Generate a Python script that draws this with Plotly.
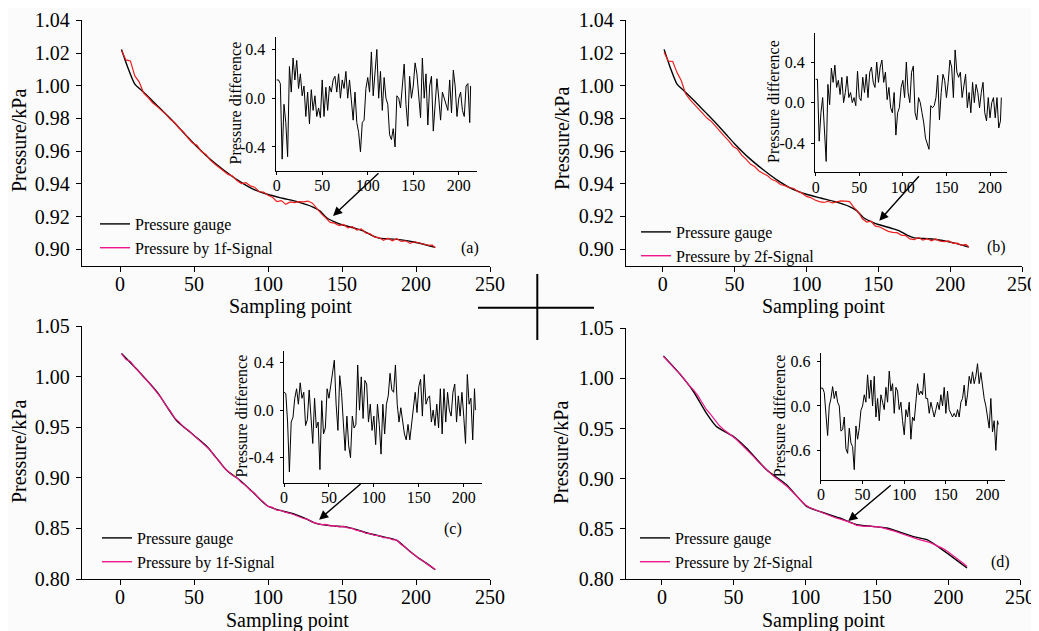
import plotly.graph_objects as go

# the page puts the figure 8 px in from the top-left corner, so the figure is made
# 8 px smaller and every reference position is shifted by that offset
OFF = 8
W, H = 1039 - OFF, 631 - OFF
FONT = "Liberation Serif"
BG = "#fbfbfb"
RED = "#f01e1e"
PINK = "#f0168c"

# ---- data ----
gauge_top_x = [1, 5, 10, 15, 20, 25, 30, 35, 40, 45, 50, 60, 70, 80, 90, 100, 110, 120, 130, 135,
               140, 145, 150, 160, 165, 170, 175, 180, 190, 200, 213]
gauge_top = [1.0222, 1.0118, 1.0010, 0.9968, 0.9925, 0.9880, 0.9835, 0.9790, 0.9742, 0.9693,
             0.9645, 0.9558, 0.9485, 0.9420, 0.9368, 0.9335, 0.9312, 0.9290, 0.9260, 0.9235,
             0.9190, 0.9168, 0.9150, 0.9125, 0.9110, 0.9085, 0.9068, 0.9065, 0.9058, 0.9042, 0.9012]

gauge_c_x = [1, 13, 25, 38, 50, 59, 72, 81, 90, 99, 106, 117, 125, 133, 144, 153, 167, 178, 187,
             195, 201, 207, 213]
gauge_c = [1.0230, 1.0048, 0.9850, 0.9570, 0.9420, 0.9306, 0.9075, 0.8976, 0.8855, 0.8729, 0.8686,
           0.8646, 0.8600, 0.8548, 0.8525, 0.8515, 0.8455, 0.8416, 0.8383, 0.8285, 0.8215, 0.8157, 0.8092]

gauge_d_x = [1, 12, 22, 31, 38, 50, 59, 73, 87, 101, 110, 124, 136, 147, 157, 175, 185, 194, 213]
gauge_d = [1.0224, 1.0052, 0.9869, 0.9653, 0.9520, 0.9420, 0.9305, 0.9089, 0.8940, 0.8724, 0.8674,
           0.8608, 0.8541, 0.8525, 0.8508, 0.8425, 0.8392, 0.8310, 0.8110]

signal_x = list(range(1, 212, 3)) + [213]

signal_a = [1.0215, 1.0158, 1.0152, 1.0060, 1.0022, 0.9955, 0.9928, 0.9896, 0.9874, 0.9850,
            0.9825, 0.9795, 0.9774, 0.9740, 0.9716, 0.9680, 0.9650, 0.9636, 0.9598, 0.9580,
            0.9545, 0.9522, 0.9502, 0.9482, 0.9458, 0.9448, 0.9420, 0.9402, 0.9408, 0.9388,
            0.9380, 0.9352, 0.9350, 0.9330, 0.9318, 0.9292, 0.9298, 0.9275, 0.9290, 0.9285,
            0.9292, 0.9290, 0.9295, 0.9282, 0.9248, 0.9218, 0.9192, 0.9165, 0.9160, 0.9145,
            0.9152, 0.9132, 0.9138, 0.9118, 0.9125, 0.9100, 0.9095, 0.9075, 0.9072, 0.9055,
            0.9068, 0.9052, 0.9065, 0.9048, 0.9052, 0.9036, 0.9046, 0.9038, 0.9032, 0.9025,
            0.9026, 0.9010]

signal_b = [1.0205, 1.0150, 1.0148, 1.0080, 1.0030, 0.9950, 0.9915, 0.9885, 0.9862, 0.9830,
            0.9800, 0.9780, 0.9748, 0.9722, 0.9690, 0.9662, 0.9628, 0.9612, 0.9575, 0.9550,
            0.9520, 0.9505, 0.9478, 0.9462, 0.9448, 0.9425, 0.9415, 0.9395, 0.9388, 0.9375,
            0.9372, 0.9352, 0.9342, 0.9322, 0.9315, 0.9300, 0.9290, 0.9285, 0.9292, 0.9282,
            0.9288, 0.9295, 0.9293, 0.9290, 0.9255, 0.9228, 0.9185, 0.9165, 0.9170, 0.9140,
            0.9135, 0.9120, 0.9108, 0.9102, 0.9100, 0.9085, 0.9082, 0.9062, 0.9058, 0.9070,
            0.9055, 0.9064, 0.9050, 0.9062, 0.9048, 0.9045, 0.9050, 0.9035, 0.9036, 0.9022,
            0.9028, 0.9012]

signal_c = [1.0228, 1.0170, 1.0152, 1.0092, 1.0050, 0.9995, 0.9952, 0.9896, 0.9852, 0.9788,
            0.9716, 0.9660, 0.9590, 0.9552, 0.9500, 0.9474, 0.9430, 0.9392, 0.9350, 0.9312,
            0.9275, 0.9212, 0.9168, 0.9105, 0.9068, 0.9025, 0.9002, 0.8955, 0.8926, 0.8878,
            0.8845, 0.8795, 0.8760, 0.8718, 0.8708, 0.8680, 0.8678, 0.8658, 0.8650, 0.8632,
            0.8615, 0.8598, 0.8590, 0.8562, 0.8550, 0.8538, 0.8540, 0.8525, 0.8527, 0.8516,
            0.8520, 0.8506, 0.8500, 0.8480, 0.8475, 0.8454, 0.8450, 0.8432, 0.8430, 0.8410,
            0.8408, 0.8390, 0.8385, 0.8342, 0.8312, 0.8268, 0.8240, 0.8200, 0.8178, 0.8142,
            0.8116, 0.8095]

signal_d = [1.0220, 1.0172, 1.0135, 1.0080, 1.0040, 0.9982, 0.9930, 0.9885, 0.9830, 0.9760,
            0.9690, 0.9640, 0.9585, 0.9530, 0.9490, 0.9460, 0.9425, 0.9390, 0.9350, 0.9305,
            0.9262, 0.9220, 0.9172, 0.9128, 0.9085, 0.9050, 0.9015, 0.8985, 0.8950, 0.8915,
            0.8872, 0.8830, 0.8780, 0.8740, 0.8712, 0.8695, 0.8672, 0.8660, 0.8640, 0.8625,
            0.8610, 0.8600, 0.8582, 0.8572, 0.8555, 0.8535, 0.8530, 0.8525, 0.8530, 0.8520,
            0.8522, 0.8510, 0.8502, 0.8492, 0.8475, 0.8458, 0.8442, 0.8425, 0.8410, 0.8400,
            0.8388, 0.8380, 0.8365, 0.8345, 0.8328, 0.8305, 0.8280, 0.8250, 0.8215, 0.8182,
            0.8150, 0.8125]

diff_x = list(range(0, 213, 2)) + [213]

diff_a = [0.15, 0.15, 0.12, -0.50, -0.05, -0.20, -0.48, 0.26, 0.05, 0.33,
          0.15, 0.31, 0.08, 0.20, 0.02, 0.10, -0.15, 0.05, -0.21, 0.07,
          -0.10, 0.02, -0.15, -0.08, -0.16, 0.15, -0.15, 0.09, -0.10, 0.10,
          0.05, 0.15, 0.18, 0.05, 0.20, 0.00, 0.15, 0.08, 0.22, 0.00,
          0.15, -0.05, -0.18, 0.05, -0.20, -0.28, -0.44, -0.20, -0.18, 0.08,
          0.17, 0.05, 0.38, 0.02, 0.20, 0.40, 0.00, 0.22, -0.10, 0.17,
          0.00, -0.05, -0.30, -0.34, -0.25, -0.40, 0.02, 0.00, -0.08, 0.10,
          0.28, -0.05, -0.23, 0.18, 0.00, 0.10, 0.29, 0.20, 0.05, -0.16,
          0.33, 0.00, 0.20, -0.22, 0.10, 0.18, -0.27, -0.05, 0.16, 0.00,
          -0.18, 0.05, 0.00, -0.05, -0.10, 0.15, -0.12, 0.23, 0.10, -0.15,
          0.00, 0.05, -0.10, -0.15, 0.10, 0.12, -0.20, 0.10]

diff_b = [0.23, 0.23, -0.38, -0.10, 0.05, -0.35, -0.58, 0.18, -0.02, 0.34,
          0.20, 0.37, 0.15, 0.22, 0.08, 0.25, 0.00, 0.10, 0.26, 0.05,
          0.10, 0.00, 0.05, -0.03, 0.31, 0.05, 0.02, 0.25, 0.10, 0.28,
          0.05, 0.30, 0.35, 0.20, 0.15, 0.40, 0.20, 0.35, 0.42, 0.20,
          0.30, 0.03, 0.15, -0.05, -0.10, 0.10, -0.32, -0.10, -0.05, 0.15,
          0.22, 0.05, 0.40, 0.10, 0.00, 0.30, 0.36, -0.10, -0.17, 0.05,
          0.00, -0.10, -0.20, -0.35, -0.40, -0.46, -0.03, -0.05, -0.03, 0.05,
          0.27, -0.17, 0.10, 0.28, 0.22, 0.05, 0.20, 0.42, 0.35, 0.05,
          0.52, 0.30, 0.25, 0.30, 0.05, 0.15, 0.28, -0.05, 0.10, -0.10,
          0.20, 0.00, 0.18, 0.10, -0.05, 0.10, 0.20, -0.10, -0.18, 0.05,
          -0.15, 0.00, 0.05, -0.15, 0.05, -0.25, -0.18, 0.05]

diff_c = [0.15, 0.14, -0.10, -0.52, -0.10, -0.06, 0.10, 0.18, 0.05, 0.23,
          0.10, 0.15, -0.13, -0.08, 0.17, -0.10, -0.28, 0.10, -0.15, -0.10,
          -0.50, 0.08, -0.20, -0.15, 0.18, 0.10, 0.20, 0.28, 0.42, 0.05,
          -0.17, 0.29, 0.15, -0.10, -0.34, -0.05, -0.30, -0.40, -0.05, -0.15,
          -0.12, 0.38, 0.00, 0.28, -0.07, 0.25, 0.22, -0.10, 0.05, -0.17,
          -0.05, -0.29, 0.05, -0.12, -0.37, 0.05, -0.20, 0.05, 0.12, 0.31,
          0.17, 0.15, 0.38, 0.05, -0.10, 0.02, -0.10, -0.20, -0.25, -0.12,
          -0.25, -0.10, 0.00, 0.15, -0.02, 0.20, 0.26, -0.05, 0.30, 0.05,
          0.10, 0.12, -0.10, 0.00, -0.13, 0.05, -0.15, 0.18, -0.20, 0.18,
          -0.10, 0.15, 0.00, -0.05, 0.15, 0.22, -0.10, 0.12, -0.05, 0.15,
          -0.05, -0.28, 0.30, 0.05, 0.10, -0.25, 0.18, 0.00]

diff_d = [0.24, 0.24, 0.18, -0.10, -0.40, 0.00, 0.10, 0.26, 0.10, 0.20,
          0.05, 0.00, -0.34, -0.32, -0.15, -0.58, -0.64, -0.30, -0.50, -0.55,
          -0.86, -0.27, -0.45, -0.30, -0.06, 0.00, 0.15, 0.05, 0.42, 0.10,
          0.35, 0.00, 0.40, -0.15, 0.10, -0.20, 0.15, 0.05, -0.05, 0.25,
          0.05, 0.47, 0.20, 0.30, -0.10, 0.25, 0.20, -0.05, 0.05, -0.20,
          -0.39, -0.05, -0.15, 0.05, -0.45, -0.15, -0.20, 0.05, 0.30, 0.15,
          0.20, 0.15, 0.44, 0.10, 0.10, -0.10, 0.05, -0.05, -0.15, -0.05,
          0.05, -0.05, 0.15, 0.00, 0.25, -0.10, 0.20, -0.05, -0.10, -0.15,
          -0.10, -0.15, -0.05, -0.15, 0.05, 0.10, 0.28, 0.00, 0.15, 0.40,
          0.30, 0.46, 0.30, 0.40, 0.57, 0.30, 0.45, 0.25, 0.10, 0.00,
          -0.15, -0.30, 0.10, -0.35, -0.20, -0.60, -0.20, -0.25]

main_xticks = [0, 50, 100, 150, 200, 250]
top_yticks = [0.90, 0.92, 0.94, 0.96, 0.98, 1.00, 1.02, 1.04]
bottom_yticks = [0.80, 0.85, 0.90, 0.95, 1.00, 1.05]
inset_xticks = [0, 50, 100, 150, 200]


def fx(p):
    return (p - OFF) / W


def fy(p):
    return 1 - (p - OFF) / H


panels = [
    dict(gx=gauge_top_x, gy=gauge_top, sy=signal_a, scol=RED, sname="Pressure by 1f-Signal",
         dy=diff_a, dom=((82, 490), (20, 266)), xr=[-25.7, 250], yr=[0.8898, 1.0402], yt=top_yticks,
         idom=((275.5, 477), (37.3, 170.7)), ixr=[-1.3, 220], iyr=[-0.595, 0.50], iyt=[-0.4, 0.0, 0.4],
         leg=(95, 207), arrow=(143.9, 0.9204, 47, -44), lab="(a)", labpos=(470, 248),
         ytitle=(19, 141), xtitle=(290, 306), ititle=(235, 103.5)),
    dict(gx=gauge_top_x, gy=gauge_top, sy=signal_b, scol=RED, sname="Pressure by 2f-Signal",
         dy=diff_b, dom=((626, 1022), (20, 266)), xr=[-25.5, 250], yr=[0.8896, 1.0402], yt=top_yticks,
         idom=((815, 1007), (32.7, 172.3)), ixr=[-0.8, 219.5], iyr=[-0.687, 0.69], iyt=[-0.4, 0.0, 0.4],
         leg=(636, 215), arrow=(150.7, 0.9173, 41, -46), lab="(b)", labpos=(996.7, 247),
         ytitle=(562, 139), xtitle=(823, 306), ititle=(774, 102)),
    dict(gx=gauge_c_x, gy=gauge_c, sy=signal_c, scol=PINK, sname="Pressure by 1f-Signal",
         dy=diff_c, dom=((82, 490), (326, 579)), xr=[-25.7, 250], yr=[0.80, 1.0502], yt=bottom_yticks,
         idom=((284, 481.7), (350.7, 482.7)), ixr=[0, 220], iyr=[-0.61, 0.50], iyt=[-0.4, 0.0, 0.4],
         leg=(97, 521), arrow=(134.5, 0.8587, 43, -37), lab="(c)", labpos=(453, 529),
         ytitle=(19, 452), xtitle=(287, 620), ititle=(241.7, 415.8)),
    dict(gx=gauge_d_x, gy=gauge_d, sy=signal_d, scol=PINK, sname="Pressure by 2f-Signal",
         dy=diff_d, dom=((626, 1020), (328, 579)), xr=[-25.1, 250], yr=[0.80, 1.0502], yt=bottom_yticks,
         idom=((820.7, 1005), (353.3, 480)), ixr=[-0.3, 221], iyr=[-1.0, 0.71], iyt=[-0.6, 0.0, 0.6],
         leg=(635, 521), arrow=(130.1, 0.8578, 44, -37), lab="(d)", labpos=(1000.7, 562),
         ytitle=(561, 453), xtitle=(823, 620), ititle=(779.3, 416)),
]

fig = go.Figure()
layout = {}
annotations = []


def note(x, y, text, size, angle=0):
    return dict(x=fx(x), y=fy(y), xref="paper", yref="paper", text=text, textangle=angle,
                xanchor="center", yanchor="middle", showarrow=False,
                font=dict(family=FONT, size=size, color="black"))


for i, p in enumerate(panels):
    n = i + 1
    m = i + 5
    xa, ya = ("x", "y") if n == 1 else ("x%d" % n, "y%d" % n)
    xi, yi = "x%d" % m, "y%d" % m
    legname = "legend" if n == 1 else "legend%d" % n

    # main curves
    fig.add_trace(go.Scatter(x=p["gx"], y=p["gy"], mode="lines", name="Pressure gauge",
                             line=dict(color="black", width=1.4, shape="spline", smoothing=0.6),
                             xaxis=xa, yaxis=ya, legend=legname))
    fig.add_trace(go.Scatter(x=signal_x, y=p["sy"], mode="lines", name=p["sname"],
                             line=dict(color=p["scol"], width=1.2), showlegend=False,
                             xaxis=xa, yaxis=ya))
    # legend entry drawn in pink as in the original
    fig.add_trace(go.Scatter(x=[None], y=[None], mode="lines", name=p["sname"],
                             line=dict(color=PINK, width=1.4), xaxis=xa, yaxis=ya, legend=legname))
    # inset
    fig.add_trace(go.Scatter(x=diff_x, y=p["dy"], mode="lines", showlegend=False,
                             line=dict(color="black", width=1), xaxis=xi, yaxis=yi))

    axstyle = dict(showline=True, linecolor="black", linewidth=1.3, ticks="outside", ticklen=5,
                   tickcolor="black", tickwidth=1.2, showgrid=False, zeroline=False,
                   automargin=False, ticklabeloverflow="allow",
                   tickfont=dict(family=FONT, size=20, color="black"))
    (x0, x1), (y0, y1) = p["dom"]
    layout["xaxis" if n == 1 else "xaxis%d" % n] = dict(
        axstyle, domain=[fx(x0), fx(x1)], range=p["xr"], tickvals=main_xticks,
        anchor=ya, ticklabelstandoff=-5)
    layout["yaxis" if n == 1 else "yaxis%d" % n] = dict(
        axstyle, domain=[fy(y1), fy(y0)], range=p["yr"], tickvals=p["yt"], tickformat=".2f",
        anchor=xa, ticklabelstandoff=2)

    istyle = dict(showline=True, linecolor="black", linewidth=1, ticks="outside", ticklen=3,
                  tickcolor="black", showgrid=False, zeroline=False, automargin=False,
                  ticklabeloverflow="allow",
                  tickfont=dict(family=FONT, size=16, color="black"))
    (x0, x1), (y0, y1) = p["idom"]
    layout["xaxis%d" % m] = dict(istyle, domain=[fx(x0), fx(x1)], range=p["ixr"],
                                 tickvals=inset_xticks, anchor=yi, ticklabelstandoff=-3)
    layout["yaxis%d" % m] = dict(istyle, domain=[fy(y1), fy(y0)], range=p["iyr"],
                                 tickvals=p["iyt"], ticklabelstandoff=3,
                                 ticktext=["%.1f" % v for v in p["iyt"]], anchor=xi)

    lx, ly = p["leg"]
    layout[legname] = dict(x=fx(lx), y=fy(ly), xanchor="left", yanchor="top",
                           bgcolor="rgba(0,0,0,0)", borderwidth=0,
                           font=dict(family=FONT, size=16, color="black"))

    hx, hy, ax, ay = p["arrow"]
    annotations.append(dict(x=hx, y=hy, xref=xa, yref=ya, ax=ax, ay=ay, text="",
                            showarrow=True, arrowhead=2, arrowsize=1.3, arrowwidth=1.4,
                            arrowcolor="black"))
    annotations.append(note(p["labpos"][0], p["labpos"][1], p["lab"], 16))
    annotations.append(note(p["ytitle"][0], p["ytitle"][1], "Pressure/kPa", 20, -90))
    annotations.append(note(p["xtitle"][0], p["xtitle"][1], "Sampling point", 20))
    annotations.append(note(p["ititle"][0], p["ititle"][1], "Pressure difference", 16, -90))

shapes = [
    dict(type="line", xref="paper", yref="paper", x0=fx(478), x1=fx(594), y0=fy(307.7), y1=fy(307.7),
         line=dict(color="black", width=2)),
    dict(type="line", xref="paper", yref="paper", x0=fx(537.3), x1=fx(537.3), y0=fy(274), y1=fy(340),
         line=dict(color="black", width=2)),
]

fig.update_layout(
    width=W, height=H,
    margin=dict(l=0, r=0, t=0, b=0, pad=0, autoexpand=False),
    paper_bgcolor=BG, plot_bgcolor=BG,
    font=dict(family=FONT, color="black"),
    annotations=annotations,
    shapes=shapes,
    **layout
)

fig.write_html("out.html")
